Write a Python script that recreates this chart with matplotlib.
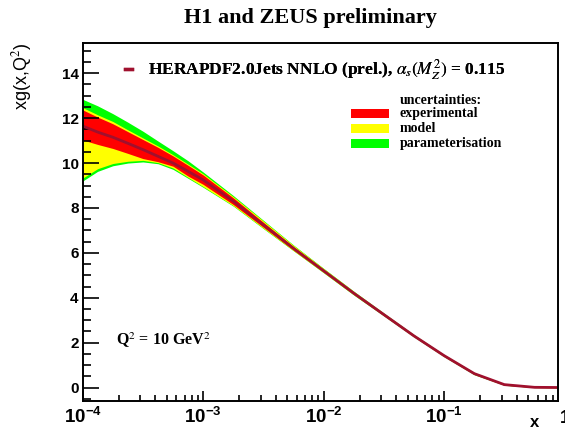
import matplotlib
matplotlib.use("Agg")
import matplotlib.pyplot as plt
from matplotlib.patches import Rectangle
from matplotlib.lines import Line2D
from matplotlib.ticker import MultipleLocator, LogLocator
from matplotlib.transforms import blended_transform_factory

# gluon distribution xg(x, Q^2) and its band edges
x = [1e-4, 1.33e-4, 1.78e-4, 2.37e-4, 3.16e-4, 4.22e-4, 5.62e-4, 7.5e-4, 1e-3,
     1.78e-3, 3.16e-3, 5.62e-3, 1e-2, 1.78e-2, 3.16e-2, 5.62e-2, 1e-1,
     1.78e-1, 3.16e-1, 5.62e-1, 1.0]
central = [11.65, 11.38, 11.15, 10.88, 10.6, 10.3, 10.0, 9.63, 9.25,
           8.3, 7.25, 6.2, 5.2, 4.2, 3.25, 2.3, 1.42,
           0.62, 0.13, 0.01, 0.0]
exp_hi = [12.37, 12.05, 11.75, 11.4, 11.05, 10.7, 10.32, 9.9, 9.47,
          8.45, 7.36, 6.28, 5.26, 4.25, 3.29, 2.33, 1.45,
          0.65, 0.15, 0.02, 0.01]
exp_lo = [11.03, 10.83, 10.65, 10.43, 10.2, 10.06, 9.86, 9.42, 9.05,
          8.15, 7.14, 6.12, 5.14, 4.15, 3.21, 2.27, 1.39,
          0.59, 0.11, 0.0, -0.01]
mod_hi = [12.47, 12.15, 11.85, 11.48, 11.12, 10.76, 10.37, 9.95, 9.52,
          8.5, 7.42, 6.33, 5.3, 4.28, 3.31, 2.35, 1.46,
          0.66, 0.15, 0.02, 0.01]
mod_lo = [9.33, 9.75, 9.98, 10.08, 10.12, 10.02, 9.78, 9.36, 8.95,
          8.1, 7.1, 6.1, 5.12, 4.13, 3.2, 2.26, 1.38,
          0.58, 0.11, 0.0, -0.01]
tot_hi = [12.84, 12.55, 12.2, 11.82, 11.42, 10.98, 10.55, 10.1, 9.6,
          8.55, 7.45, 6.35, 5.31, 4.29, 3.32, 2.36, 1.47,
          0.67, 0.16, 0.02, 0.01]
tot_lo = [9.2, 9.63, 9.88, 10.0, 10.05, 9.97, 9.72, 9.32, 8.92,
          8.08, 7.08, 6.09, 5.11, 4.12, 3.19, 2.25, 1.37,
          0.57, 0.1, 0.0, -0.01]

band_labels = ["experimental", "model", "parameterisation"]
band_colors = ["#ff0000", "#ffff00", "#00ff00"]
line_color = "#a0102e"

plt.rcParams["mathtext.fontset"] = "stix"
serif = "Liberation Serif"
sans = "Liberation Sans"

fig = plt.figure(figsize=(5.65, 4.34), dpi=100)
ax = fig.add_axes([0.1464, 0.076, 0.8416, 0.825])

ax.fill_between(x, tot_lo, tot_hi, color=band_colors[2], lw=0)
ax.fill_between(x, mod_lo, mod_hi, color=band_colors[1], lw=0)
ax.fill_between(x, exp_lo, exp_hi, color=band_colors[0], lw=0)
ax.plot(x, central, color=line_color, lw=2.0)

ax.set_xscale("log")
ax.set_xlim(1e-4, 0.885)
ax.set_ylim(-0.6, 15.35)
ax.yaxis.set_major_locator(MultipleLocator(2))
ax.yaxis.set_minor_locator(MultipleLocator(0.5))
ax.xaxis.set_minor_locator(LogLocator(base=10, subs=range(2, 10)))

ax.tick_params(which="both", direction="in", top=False, right=False, width=1.2)
ax.tick_params(axis="y", which="major", length=11.5, labelsize=11, pad=3)
ax.tick_params(axis="y", which="minor", length=6)
ax.tick_params(axis="x", which="major", length=7.5, labelsize=13.5, pad=4)
ax.tick_params(axis="x", which="minor", length=4.5)
for lab in ax.get_xticklabels() + ax.get_yticklabels():
    lab.set_fontfamily(sans)
    lab.set_fontweight("bold")
for s in ax.spines.values():
    s.set_linewidth(1.4)

# the last decade label sits on the right edge of the picture
ax.text(1.0, -0.026, "1", transform=blended_transform_factory(ax.transData, ax.transAxes),
        ha="center", va="top", fontfamily=sans, fontweight="bold", fontsize=13.5, clip_on=False)

ax.set_ylabel("xg(x,Q$^2$)", fontfamily=sans, fontsize=13, loc="top", labelpad=20)
ax.set_xlabel("x", fontfamily=sans, fontweight="bold", fontsize=12)
ax.xaxis.set_label_coords(0.951, -0.04)

fig.text(0.549, 0.958, "H1 and ZEUS preliminary", ha="center", va="center",
         fontfamily=serif, fontweight="bold", fontsize=16)

main = ax.legend([Line2D([], [], color=line_color, lw=2.4)],
                 [r"HERAPDF2.0Jets NNLO (prel.), $\alpha_s(M_Z^2)$ = 0.115"],
                 loc="center left", bbox_to_anchor=(0.07, 0.925), frameon=False,
                 handlelength=0.45, handletextpad=0.9, borderpad=0,
                 prop={"family": serif, "weight": "bold", "size": 12.5})
ax.add_artist(main)

# uncertainty key
ax.text(0.667, 0.840, "uncertainties:", transform=ax.transAxes, ha="left", va="center",
        fontfamily=serif, fontweight="bold", fontsize=10)
for i, (lab, c) in enumerate(zip(band_labels, band_colors)):
    yc = 0.803 - i * 0.042
    ax.add_patch(Rectangle((0.564, yc - 0.012), 0.08, 0.024, transform=ax.transAxes,
                           facecolor=c, edgecolor="none"))
    ax.text(0.667, yc, lab, transform=ax.transAxes, ha="left", va="center",
            fontfamily=serif, fontweight="bold", fontsize=10)

ax.text(0.070, 0.170, "Q$^2$ = 10 GeV$^2$", transform=ax.transAxes, ha="left", va="center",
        fontfamily=serif, fontweight="bold", fontsize=11.5)

fig.savefig("out.png", dpi=100)
